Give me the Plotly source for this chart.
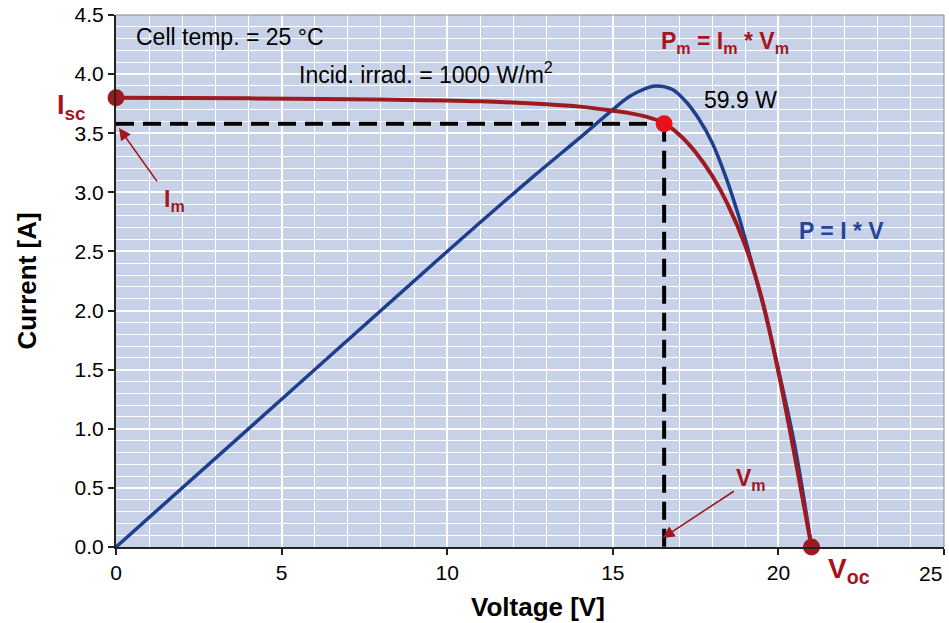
import plotly.graph_objects as go

# ---- data ----
iv_voltage = [0, 4, 8, 11, 13, 14, 15, 15.5, 16, 16.5, 17.0, 17.5, 18.0, 18.5, 19.0, 19.5, 20.0, 20.5, 21.0]
iv_current = [3.80, 3.795, 3.785, 3.77, 3.745, 3.725, 3.69, 3.67, 3.64, 3.59, 3.49, 3.34, 3.14, 2.88, 2.55, 2.10, 1.48, 0.76, 0.0]

power_voltage = [0, 5, 10, 12.5, 14, 15, 15.5, 16.0, 16.3, 16.8, 17.2, 17.6, 18.0, 18.4, 18.8, 19.2, 19.6, 20.0, 20.5, 21.0]
power_scaled = [0, 1.25, 2.5, 3.11, 3.46, 3.70, 3.81, 3.88, 3.90, 3.87, 3.77, 3.62, 3.42, 3.14, 2.80, 2.40, 1.98, 1.50, 0.85, 0.0]

isc = 3.80
voc = 21.0
vm = 16.55
im = 3.58
pmax_label = "59.9 W"

x_ticks = [0, 5, 10, 15, 20, 25]
y_ticks = [0.0, 0.5, 1.0, 1.5, 2.0, 2.5, 3.0, 3.5, 4.0, 4.5]

DARKRED = "#9E1A20"
TXTRED = "#A3161E"
BLUE = "#1F3F8C"
TXTBLUE = "#24469A"
BRIGHTRED = "#E5121B"
FONT = "Liberation Sans, Arial, sans-serif"

fig = go.Figure()

# dashed guide lines
fig.add_trace(go.Scatter(x=[0, vm], y=[im, im], mode="lines",
                         line=dict(color="black", width=4, dash="18px,9px"),
                         hoverinfo="skip", showlegend=False))
fig.add_trace(go.Scatter(x=[vm, vm], y=[im, 0], mode="lines",
                         line=dict(color="black", width=4, dash="18px,9px"),
                         hoverinfo="skip", showlegend=False))

# power curve (scaled onto current axis)
fig.add_trace(go.Scatter(x=power_voltage, y=power_scaled, mode="lines",
                         line=dict(color=BLUE, width=3.5, shape="spline", smoothing=1),
                         name="P = I * V", showlegend=False))
# I-V curve
fig.add_trace(go.Scatter(x=iv_voltage, y=iv_current, mode="lines",
                         line=dict(color=DARKRED, width=4, shape="spline", smoothing=1),
                         name="I-V", showlegend=False))

# markers
fig.add_trace(go.Scatter(x=[0, voc], y=[isc, 0], mode="markers",
                         marker=dict(color=DARKRED, size=17),
                         cliponaxis=False, showlegend=False))
fig.add_trace(go.Scatter(x=[vm], y=[im], mode="markers",
                         marker=dict(color=BRIGHTRED, size=17),
                         cliponaxis=False, showlegend=False))

ann = []
def txt(text, x, y, size, color, xanchor="left", yanchor="middle", xref="x", yref="y"):
    ann.append(dict(text=text, x=x, y=y, xref=xref, yref=yref, showarrow=False,
                    xanchor=xanchor, yanchor=yanchor,
                    font=dict(family=FONT, size=size, color=color)))

txt("Cell temp. = 25 °C", 0.55, 4.31, 23, "black")
txt("Incid. irrad. = 1000 W/m<sup>2</sup>", 5.45, 4.01, 23, "black")
txt(pmax_label, 18.86, 3.78, 23, "black", xanchor="center")
txt("<b>P<sub>m</sub> = I<sub>m</sub> * V<sub>m</sub></b>", 18.38, 4.27, 23, TXTRED, xanchor="center")
txt("<b>P = I * V</b>", 21.9, 2.67, 23, TXTBLUE, xanchor="center")
txt("<b>I<sub>sc</sub></b>", -28 / 828, 3.72, 27, TXTRED, xanchor="right", xref="paper")
txt("<b>I<sub>m</sub></b>", 1.38, 2.93, 23, TXTRED)
txt("<b>V<sub>m</sub></b>", 18.66, 0.57, 23, TXTRED)
txt("<b>V<sub>oc</sub></b>", 21.45, -0.195 / 4.5, 28, TXTRED, yref="paper")
# x-axis title placed as text (slightly right of plot centre, as in the reference)
txt("<b>Voltage [V]</b>", 0.51, -0.113, 26, "black", xanchor="center", xref="paper", yref="paper")
# last x tick label, kept inside the page edge
txt(str(x_ticks[-1]), 1.0, -0.049, 21, "black", xanchor="right", xref="paper", yref="paper")

# arrows
ann.append(dict(x=0.09, y=3.545, ax=1.27, ay=3.08, xref="x", yref="y", axref="x", ayref="y",
                text="", showarrow=True, arrowhead=2, arrowsize=1.5, arrowwidth=1.6, arrowcolor=TXTRED))
ann.append(dict(x=16.5, y=0.076, ax=18.7, ay=0.48, xref="x", yref="y", axref="x", ayref="y",
                text="", showarrow=True, arrowhead=2, arrowsize=1.5, arrowwidth=1.6, arrowcolor=TXTRED))

fig.update_layout(
    width=949, height=623,
    margin=dict(l=116, r=5, t=15, b=76),
    paper_bgcolor="white",
    plot_bgcolor="#C7D2E8",
    annotations=ann,
    showlegend=False,
    shapes=[
        dict(type="line", xref="paper", yref="paper", x0=0, x1=1, y0=1, y1=1,
             line=dict(color="#8A8A8A", width=1), layer="above"),
        dict(type="line", xref="paper", yref="paper", x0=1, x1=1, y0=0, y1=1,
             line=dict(color="#8A8A8A", width=1), layer="above"),
    ],
)

fig.update_xaxes(
    range=[0, 25], tickvals=x_ticks, ticktext=[str(v) for v in x_ticks[:-1]] + [""],
    showgrid=True, gridcolor="white", gridwidth=2,
    minor=dict(dtick=1, tick0=0, showgrid=True, gridcolor="white", gridwidth=1),
    showline=True, linecolor="#222222", linewidth=2, zeroline=False,
    ticks="outside", ticklen=6, tickwidth=1.5, tickcolor="#222222",
    tickfont=dict(family=FONT, size=21, color="black"),
    automargin=False,
)
fig.update_yaxes(
    range=[0, 4.5], tickvals=y_ticks, ticktext=[f"{v:.1f}" for v in y_ticks],
    showgrid=True, gridcolor="white", gridwidth=2,
    minor=dict(dtick=0.1, tick0=0, showgrid=True, gridcolor="white", gridwidth=1),
    showline=True, linecolor="#222222", linewidth=2, zeroline=False,
    ticks="outside", ticklen=6, tickwidth=1.5, tickcolor="#222222",
    tickfont=dict(family=FONT, size=21, color="black"),
    automargin=False,
    title=dict(text="<b>Current [A]</b>", font=dict(family=FONT, size=26, color="black"), standoff=30),
)

fig.write_html("out.html", config={"displayModeBar": False},
               post_script="document.body.style.margin='0';")
